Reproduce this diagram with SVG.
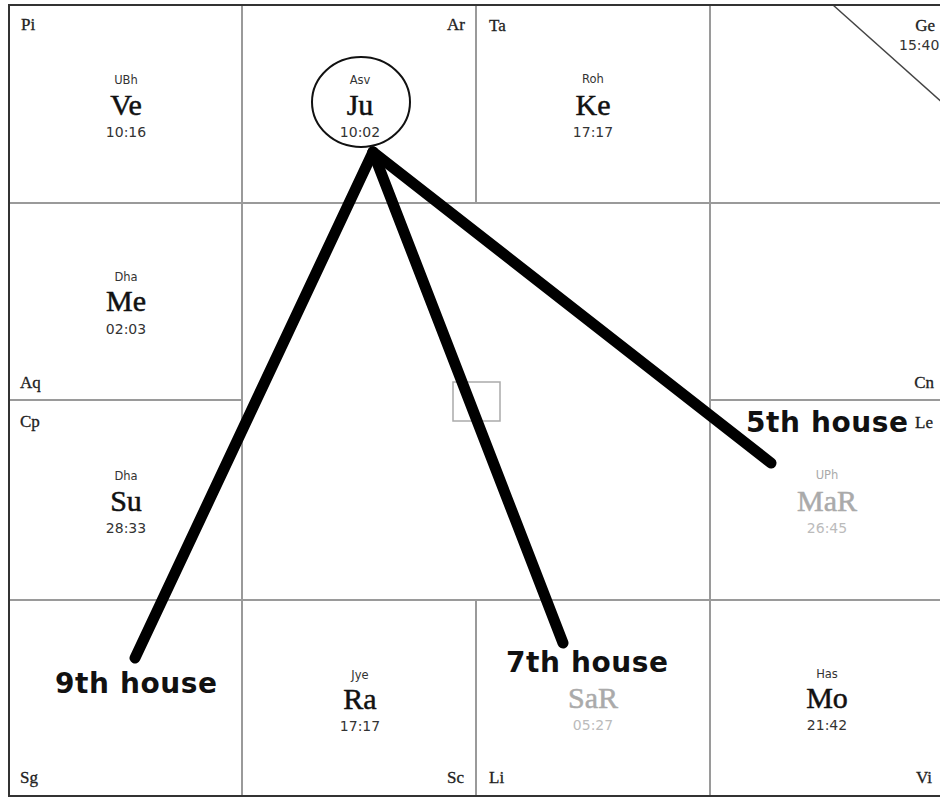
<svg xmlns="http://www.w3.org/2000/svg" width="940" height="797" viewBox="0 0 940 797">
<style>
.grid{stroke:#9a9a9a;stroke-width:2;fill:none}
.border{stroke:#333;stroke-width:2;fill:none}
.sign{font-family:"Liberation Serif",serif;font-size:17px;fill:#222;stroke:#222;stroke-width:0.3}
.nak{font-family:"DejaVu Sans",sans-serif;font-size:11.5px;fill:#333;text-anchor:middle}
.pl{font-family:"Liberation Serif",serif;font-size:30px;fill:#111;stroke:#111;stroke-width:0.5;text-anchor:middle}
.deg{font-family:"DejaVu Sans",sans-serif;font-size:14px;fill:#333;text-anchor:middle}
.dim{fill:#aaa;stroke:#aaa}
.dimdeg{fill:#bbb}
.house{font-family:"DejaVu Sans",sans-serif;font-weight:bold;font-size:28px;letter-spacing:0.6px;fill:#111}
.conn{stroke:#000;stroke-width:11;stroke-linecap:round;fill:none}
</style>
<rect x="0" y="0" width="940" height="797" fill="#fff"/>
<g id="grid">
<line class="grid" x1="9" y1="203" x2="944" y2="203"/>
<line class="grid" x1="9" y1="600" x2="944" y2="600"/>
<line class="grid" x1="242" y1="5" x2="242" y2="796"/>
<line class="grid" x1="710" y1="5" x2="710" y2="796"/>
<line class="grid" x1="476" y1="5" x2="476" y2="203"/>
<line class="grid" x1="476" y1="600" x2="476" y2="796"/>
<line class="grid" x1="9" y1="400" x2="242" y2="400"/>
<line class="grid" x1="710" y1="400" x2="944" y2="400"/>
<rect x="453" y="382" width="47" height="39" stroke="#aaa" stroke-width="1.5" fill="none"/>
<line x1="833" y1="5" x2="944" y2="104" stroke="#444" stroke-width="1.5"/>
<rect class="border" x="9" y="5" width="940" height="791"/>
</g>
<g id="Pi"><text class="sign" x="21" y="30">Pi</text>
<text class="nak" x="126" y="84">UBh</text><text class="pl" x="126" y="115">Ve</text><text class="deg" x="126" y="137">10:16</text></g>
<g id="Ar"><text class="sign" x="465" y="30" text-anchor="end">Ar</text>
<ellipse cx="361" cy="102" rx="49" ry="45" stroke="#111" stroke-width="2" fill="none"/>
<text class="nak" x="360" y="84">Asv</text><text class="pl" x="360" y="115">Ju</text><text class="deg" x="360" y="137">10:02</text></g>
<g id="Ta"><text class="sign" x="489" y="31">Ta</text>
<text class="nak" x="593" y="83">Roh</text><text class="pl" x="593" y="115">Ke</text><text class="deg" x="593" y="137">17:17</text></g>
<g id="Ge"><text class="sign" x="935" y="31" text-anchor="end">Ge</text>
<text class="deg" x="899" y="50" style="text-anchor:start">15:40</text></g>
<g id="Aq"><text class="sign" x="20" y="388">Aq</text>
<text class="nak" x="126" y="281">Dha</text><text class="pl" x="126" y="311">Me</text><text class="deg" x="126" y="334">02:03</text></g>
<g id="Cn"><text class="sign" x="934" y="388" text-anchor="end">Cn</text></g>
<g id="Cp"><text class="sign" x="20" y="427">Cp</text>
<text class="nak" x="126" y="480">Dha</text><text class="pl" x="126" y="511">Su</text><text class="deg" x="126" y="533">28:33</text></g>
<g id="Le"><text class="sign" x="933" y="428" text-anchor="end">Le</text>
<text class="nak dim" x="827" y="479" style="stroke:none">UPh</text><text class="pl dim" x="827" y="511">MaR</text><text class="deg dimdeg" x="827" y="533">26:45</text></g>
<g id="Sg"><text class="sign" x="20" y="783">Sg</text></g>
<g id="Sc"><text class="sign" x="464" y="783" text-anchor="end">Sc</text>
<text class="nak" x="360" y="679">Jye</text><text class="pl" x="360" y="709">Ra</text><text class="deg" x="360" y="731">17:17</text></g>
<g id="Li"><text class="sign" x="489" y="783">Li</text>
<text class="pl dim" x="593" y="708">SaR</text><text class="deg dimdeg" x="593" y="730">05:27</text></g>
<g id="Vi"><text class="sign" x="932" y="783" text-anchor="end">Vi</text>
<text class="nak" x="827" y="678">Has</text><text class="pl" x="827" y="708">Mo</text><text class="deg" x="827" y="730">21:42</text></g>
<g id="connectors">
<line class="conn" x1="373" y1="152" x2="771" y2="463"/>
<line class="conn" x1="373" y1="152" x2="563" y2="643"/>
<line class="conn" x1="373" y1="152" x2="135" y2="658"/>
</g>
<g id="labels">
<text class="house" x="746" y="432">5th house</text>
<text class="house" x="506" y="672">7th house</text>
<text class="house" x="55" y="693">9th house</text>
</g>
</svg>
